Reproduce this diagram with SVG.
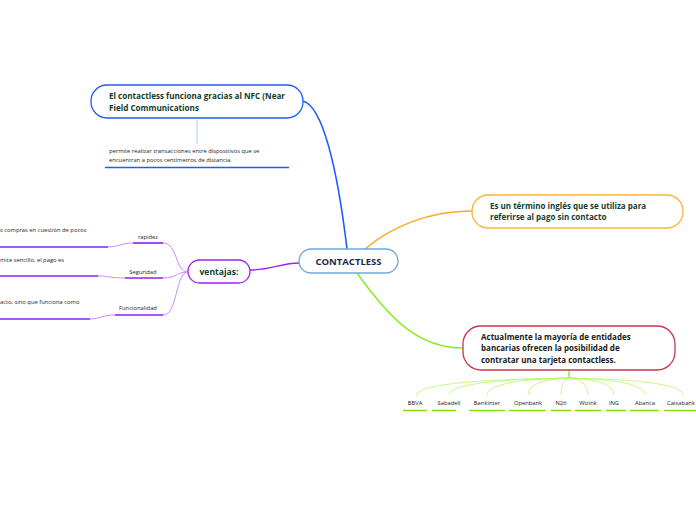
<svg xmlns="http://www.w3.org/2000/svg" width="696" height="520" viewBox="0 0 696 520">
<style>
.bg{fill:#ffffff}
.node{fill:#ffffff;stroke-width:1.3}
.t{font-family:"Open Sans","Noto Sans","Liberation Sans",sans-serif;font-weight:bold;fill:#123d2e}
.s{font-family:"Open Sans","Noto Sans","Liberation Sans",sans-serif;fill:#222222;font-size:5.8px}
.c{fill:none}
</style>
<rect class="bg" x="0" y="0" width="696" height="520"/>
<g id="connectors">
  <path class="c" d="M303,101 C322,106 337,165 347,249" stroke="#1f5cff" stroke-width="1.6"/>
  <path class="c" d="M365,249 C392,226 430,211 472,211" stroke="#ffa726" stroke-width="1.4"/>
  <path class="c" d="M357,273 C392,322 420,348 463,348" stroke="#86ee1c" stroke-width="1.4"/>
  <path class="c" d="M250,270 C272,270 280,263 300,263" stroke="#a020f0" stroke-width="1.4"/>
  <line x1="197" y1="120" x2="197" y2="144" stroke="#a9c4f5" stroke-width="1"/>
  <line x1="105" y1="167.5" x2="289" y2="167.5" stroke="#1f5cff" stroke-width="1.6"/>
  <g stroke="#c98bff" stroke-width="1" fill="none">
    <path d="M188,272 C175,272 178,243 163,243"/>
    <path d="M188,272 C175,272 178,278 163,278"/>
    <path d="M188,272 C175,272 178,315 163,315"/>
    <path d="M133,243 C122,243 118,247 108,247"/>
    <path d="M125,278 C112,278 108,276 98,276"/>
    <path d="M115,315 C102,315 100,319 90,319"/>
  </g>
  <g stroke="#8f1ee8" stroke-width="1.6">
    <line x1="133" y1="243" x2="163" y2="243"/>
    <line x1="125" y1="278" x2="163" y2="278"/>
    <line x1="115" y1="315" x2="163" y2="315"/>
    <line x1="0" y1="247" x2="108" y2="247"/>
    <line x1="0" y1="276" x2="98" y2="276"/>
    <line x1="0" y1="319" x2="90" y2="319"/>
  </g>
  <line x1="569" y1="370" x2="569" y2="378" stroke="#86ee1c" stroke-width="1.4"/>
  <g stroke="#b8f56a" stroke-width="0.8" fill="none">
    <path d="M569,378 Q416,380 416,396"/>
    <path d="M569,378 Q449,380 449,395"/>
    <path d="M569,378 Q487,380 487,395"/>
    <path d="M569,378 Q528,380 528,395"/>
    <path d="M569,378 Q561,380 561,395"/>
    <path d="M569,378 Q588,380 588,395"/>
    <path d="M569,378 Q614,380 614,395"/>
    <path d="M569,378 Q645,380 645,395"/>
    <path d="M569,378 Q683,380 683,395"/>
  </g>
  <g stroke="#7fe600" stroke-width="1.6">
    <line x1="403" y1="410.5" x2="427" y2="410.5"/>
    <line x1="432" y1="410.5" x2="456" y2="410.5"/>
    <line x1="469" y1="410.5" x2="505" y2="410.5"/>
    <line x1="509" y1="410.5" x2="546" y2="410.5"/>
    <line x1="551" y1="410.5" x2="571" y2="410.5"/>
    <line x1="575" y1="410.5" x2="601" y2="410.5"/>
    <line x1="606" y1="410.5" x2="626" y2="410.5"/>
    <line x1="630" y1="410.5" x2="659" y2="410.5"/>
    <line x1="664" y1="410.5" x2="700" y2="410.5"/>
  </g>
</g>
<g id="center">
  <rect class="node" x="299" y="249" width="99" height="24" rx="12" stroke="#6fa8dc"/>
  <text class="t" x="348.5" y="264.5" font-size="9.5" text-anchor="middle" style="fill:#1b2a4a">CONTACTLESS</text>
</g>
<g id="nfc">
  <rect class="node" x="91" y="85" width="212" height="33" rx="16" stroke="#1f5cff"/>
  <text class="t" x="109" y="98.5" font-size="8.1">El contactless funciona gracias al NFC (Near</text>
  <text class="t" x="109" y="110.5" font-size="8.1">Field Communications</text>
</g>
<g id="nfc-detail">
  <text class="s" x="109" y="153">permite realizar transacciones entre dispositivos que se</text>
  <text class="s" x="109" y="162">encuentran a pocos centímetros de distancia.</text>
</g>
<g id="definition">
  <rect class="node" x="472" y="195" width="211" height="33" rx="16" stroke="#ffb238"/>
  <text class="t" x="490" y="208.5" font-size="8">Es un término inglés que se utiliza para</text>
  <text class="t" x="490" y="220" font-size="8">referirse al pago sin contacto</text>
</g>
<g id="banks">
  <rect class="node" x="463" y="326" width="212" height="44" rx="18" stroke="#c9374c"/>
  <text class="t" x="481" y="339.5" font-size="8" style="fill:#1a1a1a">Actualmente la mayoría de entidades</text>
  <text class="t" x="481" y="351" font-size="8" style="fill:#1a1a1a">bancarias ofrecen la posibilidad de</text>
  <text class="t" x="481" y="362.5" font-size="8" style="fill:#1a1a1a">contratar una tarjeta contactless.</text>
</g>
<g id="bank-list">
  <text class="s" x="415" y="405" text-anchor="middle">BBVA</text>
  <text class="s" x="449" y="405" text-anchor="middle">Sabadell</text>
  <text class="s" x="487" y="405" text-anchor="middle">Bankinter</text>
  <text class="s" x="528" y="405" text-anchor="middle">Openbank</text>
  <text class="s" x="561" y="405" text-anchor="middle">N26</text>
  <text class="s" x="588" y="405" text-anchor="middle">Wizink</text>
  <text class="s" x="614" y="405" text-anchor="middle">ING</text>
  <text class="s" x="645" y="405" text-anchor="middle">Abanca</text>
  <text class="s" x="667" y="405">Caixabank</text>
</g>
<g id="ventajas">
  <rect class="node" x="188" y="260" width="62" height="23" rx="11.5" stroke="#a020f0"/>
  <text class="t" x="219" y="274.5" font-size="8.6" text-anchor="middle">ventajas:</text>
</g>
<g id="rapidez">
  <text class="s" x="148" y="239" text-anchor="middle">rapidez</text>
  <text class="s" x="0" y="232">s compras en cuestión de pocos</text>
</g>
<g id="seguridad">
  <text class="s" x="143" y="274" text-anchor="middle">Seguridad</text>
  <text class="s" x="0" y="262">mite sencillo, el pago es</text>
</g>
<g id="funcionalidad">
  <text class="s" x="138" y="310" text-anchor="middle">Funcionalidad</text>
  <text class="s" x="0" y="304">acto, sino que funciona como</text>
</g>
</svg>
